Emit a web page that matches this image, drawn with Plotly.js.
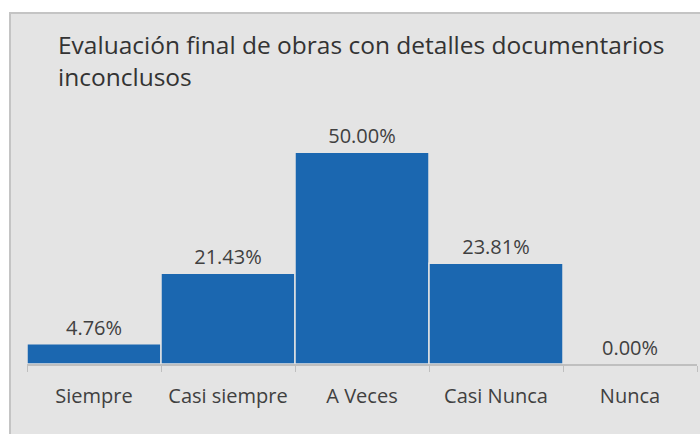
<!DOCTYPE html>
<html>
<head>
<meta charset="utf-8">
<script src="https://cdn.plot.ly/plotly-3.0.1.min.js"></script>
<style>
  html, body { margin: 0; padding: 0; background: #ffffff; }
  #chart {
    position: absolute;
    left: 9px;
    top: 12px;
    width: 689px;
    height: 420px;
    border-left: 2px solid #c4c4c4;
    border-top: 2px solid #c4c4c4;
  }
</style>
</head>
<body>
<div id="chart"></div>
<script>
// Data
const categories = ['Siempre', 'Casi siempre', 'A Veces', 'Casi Nunca', 'Nunca'];
const percents = [4.76, 21.43, 50.00, 23.81, 0.00];
const chartTitle = 'Evaluación final de obras con detalles documentarios<br>inconclusos';

const textColor = '#404040';
const barColor = '#1b67b0';

let data = [{
    x: categories,
    y: percents,
    type: 'bar',
    marker: {color: barColor, line: {color: '#e4e4e4', width: 1.5}},
    texttemplate: '%{y:.2f}%',
    textposition: 'outside',
    textfont: {size: 20, color: textColor},
    cliponaxis: false,
    hoverinfo: 'none'
}];

let layout = {
    width: 689,
    height: 420,
    title: {
        text: chartTitle,
        font: {size: 24.5, color: '#333333', family: 'Open Sans, sans-serif'},
        xref: 'container',
        yref: 'container',
        x: 47 / 689,
        xanchor: 'left',
        y: 1 - 40 / 420,
        yanchor: 'top'
    },
    font: {family: 'Open Sans, sans-serif', color: textColor, size: 20},
    paper_bgcolor: '#e4e4e4',
    plot_bgcolor: '#e4e4e4',
    bargap: 0,
    showlegend: false,
    margin: {l: 16, r: 3, t: 96, b: 70},
    xaxis: {
        type: 'category',
        showline: true,
        linecolor: '#bfbfbf',
        linewidth: 1.5,
        ticks: 'outside',
        tickson: 'boundaries',
        ticklen: 6,
        tickcolor: '#bfbfbf',
        ticklabelstandoff: 13,
        tickfont: {size: 20, color: textColor}
    },
    yaxis: {
        range: [0, 60],
        visible: false,
        showgrid: false,
        zeroline: false
    }
};

let config = {staticPlot: true, displayModeBar: false};

Plotly.newPlot('chart', data, layout, config);
</script>
</body>
</html>
